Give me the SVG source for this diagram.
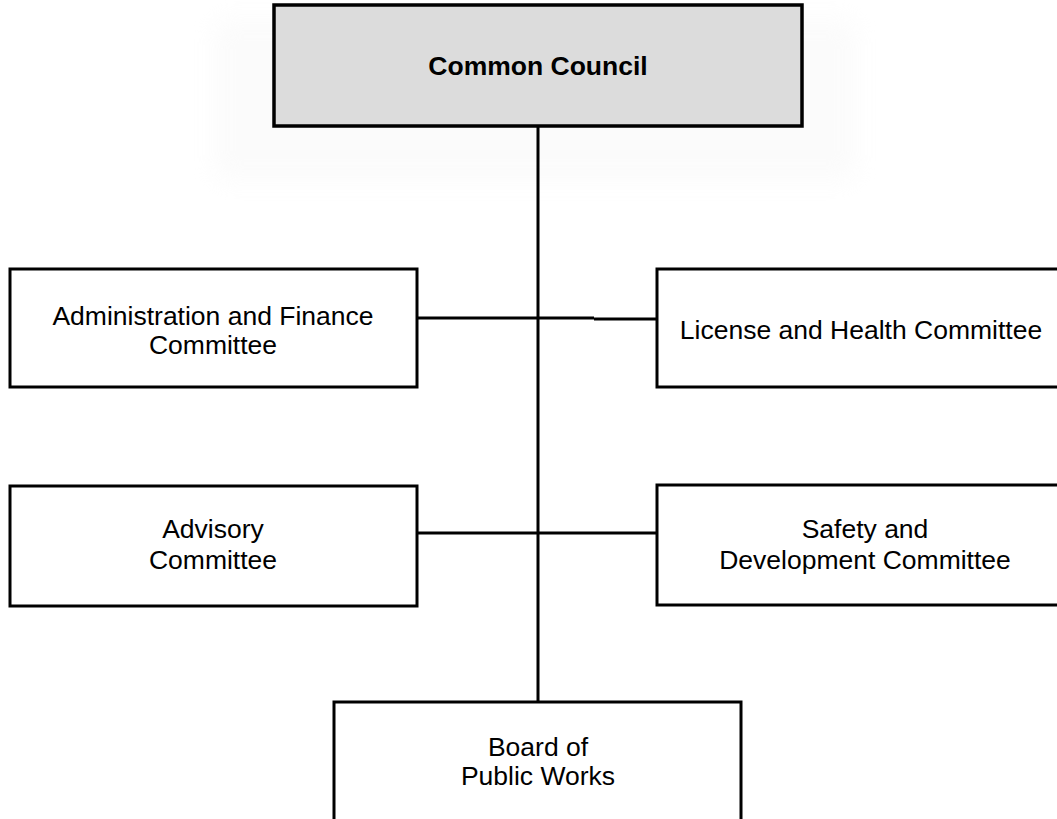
<svg xmlns="http://www.w3.org/2000/svg" width="1057" height="819" viewBox="0 0 1057 819">
<style>
.box{fill:#ffffff;stroke:#000000;stroke-width:3}
.head{fill:#dcdcdc;stroke:#000000;stroke-width:3.5}
.t{font-family:"Liberation Sans",Arial,sans-serif;font-size:26.5px;fill:#000000;text-anchor:middle}
.tb{font-family:"Liberation Sans",Arial,sans-serif;font-size:26.5px;font-weight:bold;fill:#000000;text-anchor:middle}
.c{stroke:#000000;stroke-width:3;fill:none}
</style>
<defs>
<filter id="blur" x="-20%" y="-50%" width="140%" height="200%"><feGaussianBlur stdDeviation="12"/></filter>
</defs>
<rect width="1057" height="819" fill="#ffffff"/>
<g id="ghost" opacity="0.3">
<rect x="215" y="20" width="640" height="160" fill="#f2f2f2" filter="url(#blur)"/>
</g>
<g id="connectors">
<line class="c" x1="538" y1="126" x2="538" y2="702"/>
<line class="c" x1="417" y1="318" x2="594" y2="318"/>
<line class="c" x1="594" y1="319" x2="657" y2="319"/>
<line class="c" x1="417" y1="533" x2="657" y2="533"/>
</g>
<g id="common-council">
<rect class="head" x="274" y="5" width="528" height="121"/>
<text class="tb" x="538" y="75">Common Council</text>
</g>
<g id="admin-finance">
<rect class="box" x="10" y="269" width="407" height="118"/>
<text class="t" x="213" y="325">Administration and Finance</text>
<text class="t" x="213" y="354">Committee</text>
</g>
<g id="license-health">
<rect class="box" x="657" y="269" width="410" height="118"/>
<text class="t" x="861" y="339">License and Health Committee</text>
</g>
<g id="advisory">
<rect class="box" x="10" y="486" width="407" height="120"/>
<text class="t" x="213" y="538">Advisory</text>
<text class="t" x="213" y="569">Committee</text>
</g>
<g id="safety-development">
<rect class="box" x="657" y="485" width="410" height="120"/>
<text class="t" x="865" y="538">Safety and</text>
<text class="t" x="865" y="569">Development Committee</text>
</g>
<g id="board-public-works">
<rect class="box" x="334" y="702" width="407" height="130"/>
<text class="t" x="538" y="756">Board of</text>
<text class="t" x="538" y="785">Public Works</text>
</g>
</svg>
